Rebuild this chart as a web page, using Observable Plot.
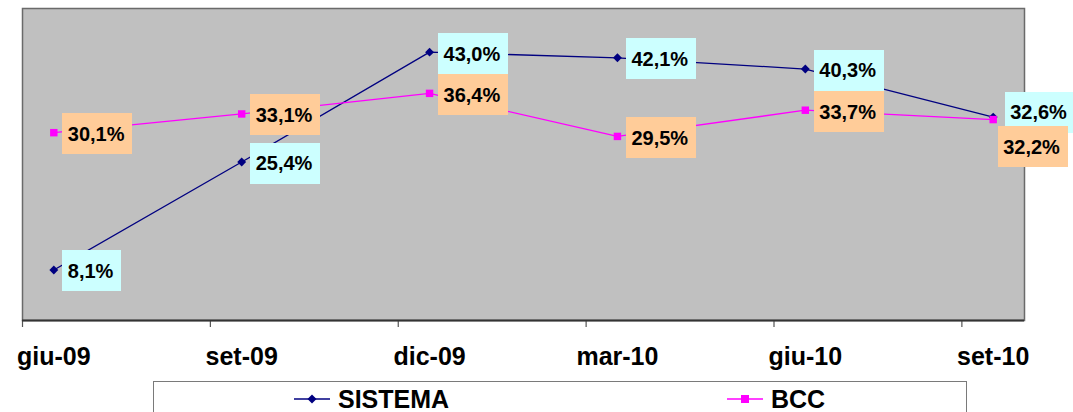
<!DOCTYPE html>
<html>
<head>
<meta charset="utf-8">
<script src="https://cdn.jsdelivr.net/npm/d3@7"></script>
<script src="https://cdn.jsdelivr.net/npm/@observablehq/plot@0.6"></script>
<style>
  html, body { margin: 0; padding: 0; background: #fff; }
  body { width: 1073px; height: 412px; overflow: hidden; position: relative; font-family: "Liberation Sans", Arial, sans-serif; }
  #legend { position: absolute; left: 153px; top: 381px; width: 814px; height: 45px; border: 1px solid #7a7a7a; box-sizing: border-box; background: #fff; }
  .item { position: absolute; top: 3px; display: flex; align-items: center; font-weight: bold; font-size: 25px; line-height: 28px; color: #000; }
  .item svg { margin-right: 8px; }
</style>
</head>
<body>
<div id="chart"></div>
<div id="legend">
  <div class="item" style="left:140px"><svg width="36" height="12"><line x1="0" y1="6" x2="36" y2="6" stroke="#000080" stroke-width="1.5"/><path d="M18,1.5L22.5,6L18,10.5L13.5,6Z" fill="#000080"/></svg><span>SISTEMA</span></div>
  <div class="item" style="left:573px"><svg width="36" height="12"><line x1="0" y1="6" x2="36" y2="6" stroke="#FF00FF" stroke-width="1.5"/><rect x="14" y="2" width="8" height="8" fill="#FF00FF"/></svg><span>BCC</span></div>
</div>
<script>
// Categories (quarter-end months) and their position in months since giu-09
const categories = ["giu-09", "set-09", "dic-09", "mar-10", "giu-10", "set-10"];
const months = [0, 3, 6, 9, 12, 15];
// Series values (%)
const sistema = [8.1, 25.4, 43.0, 42.1, 40.3, 32.6];
const bcc = [30.1, 33.1, 36.4, 29.5, 33.7, 32.2];

const fmt = v => v.toFixed(1).replace(".", ",") + "%";
const rows = (vals, name) => vals.map((v, i) => ({ m: months[i], v, name, label: fmt(v), i }));
const dS = rows(sistema, "SISTEMA");
const dB = rows(bcc, "BCC");
const last = categories.length - 1;

const tickBounds = months.map(m => m - 0.5);

const chart = Plot.plot({
  width: 1073,
  height: 380,
  marginLeft: 22,
  marginRight: 49,
  marginTop: 8,
  marginBottom: 60,
  style: { fontFamily: "'Liberation Sans', Arial, sans-serif", background: "transparent", overflow: "visible" },
  x: { type: "linear", domain: [-0.5, 15.5], label: null },
  y: { domain: [0, 50], axis: null },
  marks: [
    Plot.frame({ fill: "#C0C0C0", stroke: "#6a6a6a", strokeWidth: 1.5 }),
    Plot.axisX(tickBounds, { tickSize: 7, tickFormat: () => "", label: null, stroke: "#555", strokeWidth: 1.2 }),
    Plot.axisX(months, {
      tickSize: 0, tickPadding: 27, label: null,
      tickFormat: d => categories[months.indexOf(d)],
      fontSize: 25, fontWeight: "bold", fill: "#000"
    }),
    Plot.ruleY([0], { stroke: "#333", strokeWidth: 2 }),
    Plot.line(dS, { x: "m", y: "v", stroke: "#000080", strokeWidth: 1.3 }),
    Plot.dot(dS, { x: "m", y: "v", symbol: "diamond2", r: 4, fill: "#000080", stroke: "none" }),
    Plot.line(dB, { x: "m", y: "v", stroke: "#FF00FF", strokeWidth: 1.3 }),
    Plot.dot(dB, { x: "m", y: "v", symbol: "square", r: 4.2, fill: "#FF00FF", stroke: "none" }),
    Plot.text(dS, { filter: d => d.i < last, x: "m", y: "v", text: "label", textAnchor: "start", dx: 14, dy: 2, fontSize: 20, fontWeight: "bold", fill: "#000" }),
    Plot.text(dS, { filter: d => d.i === last, x: "m", y: "v", text: "label", textAnchor: "start", dx: 17, dy: -4, fontSize: 20, fontWeight: "bold", fill: "#000" }),
    Plot.text(dB, { filter: d => d.i < last, x: "m", y: "v", text: "label", textAnchor: "start", dx: 14, dy: 2, fontSize: 20, fontWeight: "bold", fill: "#000" }),
    Plot.text(dB, { filter: d => d.i === last, x: "m", y: "v", text: "label", textAnchor: "start", dx: 10, dy: 28, fontSize: 20, fontWeight: "bold", fill: "#000" })
  ]
});

document.getElementById("chart").appendChild(chart);

// Label background boxes, drawn behind each data label text
const boxFill = new Map([
  ...dS.map(d => [d.label, "#CCFFFF"]),
  ...dB.map(d => [d.label, "#FFCC99"])
]);
const svg = chart.tagName.toLowerCase() === "svg" ? chart : chart.querySelector("svg");
Array.from(svg.querySelectorAll("text")).forEach(t => {
  const fill = boxFill.get(t.textContent.trim());
  if (!fill) return;
  const b = t.getBBox();
  const r = document.createElementNS("http://www.w3.org/2000/svg", "rect");
  const cy = b.y + b.height / 2;
  r.setAttribute("x", Math.round(b.x - 5));
  r.setAttribute("y", Math.round(cy - 20));
  r.setAttribute("width", Math.round(b.width + 12));
  r.setAttribute("height", 40);
  r.setAttribute("fill", fill);
  r.setAttribute("stroke", fill);
  r.setAttribute("stroke-width", 1);
  r.setAttribute("shape-rendering", "crispEdges");
  const tr = t.getAttribute("transform");
  if (tr) r.setAttribute("transform", tr);
  t.parentNode.insertBefore(r, t);
});
</script>
</body>
</html>
